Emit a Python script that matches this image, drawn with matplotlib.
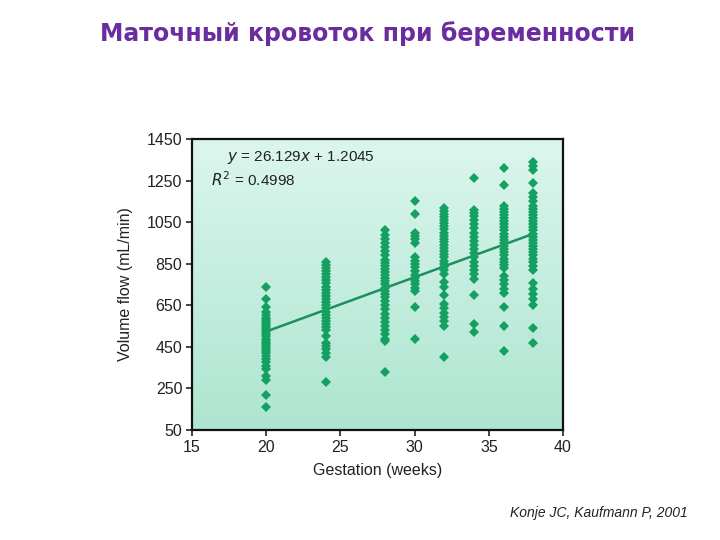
import numpy as np
import matplotlib.pyplot as plt

# Gestation groups (weeks) and volume flow readings (mL/min)
weeks = [20, 24, 28, 30, 32, 34, 36, 38]
flow_20 = [740, 680, 640, 620, 605, 590, 580, 570, 560, 550, 540, 530, 520,
           510, 500, 490, 480, 470, 460, 450, 440, 430, 420, 405, 390, 375,
           360, 345, 310, 290, 220, 160]
flow_24 = [860, 845, 830, 815, 800, 785, 770, 755, 740, 725, 710, 695, 680,
           665, 650, 635, 620, 605, 590, 575, 560, 545, 530, 500, 470, 455,
           440, 420, 400, 280]
flow_28 = [1010, 990, 970, 950, 930, 910, 890, 870, 855, 840, 825, 810, 795,
           780, 765, 750, 735, 720, 705, 690, 670, 650, 630, 610, 590, 570,
           550, 530, 510, 490, 480, 330]
flow_30 = [1150, 1090, 1000, 985, 970, 950, 880, 865, 850, 835, 815, 795,
           780, 765, 750, 735, 720, 640, 490]
flow_32 = [1120, 1105, 1090, 1075, 1060, 1045, 1030, 1015, 1000, 985, 970,
           955, 940, 925, 910, 895, 880, 865, 850, 835, 820, 800, 760, 740,
           700, 655, 635, 615, 595, 575, 550, 400]
flow_34 = [1260, 1110, 1095, 1080, 1060, 1040, 1020, 1000, 980, 960, 940,
           920, 900, 880, 860, 840, 820, 800, 775, 700, 560, 520]
flow_36 = [1310, 1230, 1130, 1115, 1100, 1085, 1070, 1055, 1040, 1025, 1010,
           995, 980, 965, 950, 935, 920, 905, 890, 875, 860, 845, 830, 790,
           770, 750, 730, 710, 640, 550, 430]
flow_38 = [1340, 1320, 1300, 1240, 1190, 1170, 1150, 1130, 1115, 1100, 1085,
           1070, 1055, 1040, 1025, 1010, 995, 980, 965, 950, 935, 920, 905,
           890, 875, 860, 840, 820, 755, 730, 705, 680, 650, 540, 470]
groups = [flow_20, flow_24, flow_28, flow_30, flow_32, flow_34, flow_36, flow_38]

# Regression reported in the source
slope = 26.129
intercept = 1.2045

green = '#14a060'
txt = '#222222'

fig = plt.figure(figsize=(7.2, 5.4), dpi=100)
fig.text(0.51, 0.937, 'Маточный кровоток при беременности', ha='center',
         va='center', fontsize=17, fontweight='bold', color='#6a2c9e',
         family='DejaVu Sans')

ax = fig.add_axes([0.2667, 0.2037, 0.5153, 0.5389])

# soft vertical gradient background
grad = np.linspace(0, 1, 256).reshape(-1, 1)
cmap = plt.matplotlib.colors.LinearSegmentedColormap.from_list(
    'bg', ['#ade5d0', '#dcf6ee'])
ax.imshow(grad, aspect='auto', cmap=cmap, origin='lower',
          extent=[15, 40, 50, 1450], zorder=0)

for w, vals in zip(weeks, groups):
    ax.plot([w] * len(vals), vals, linestyle='none', marker='D',
            markersize=5.4, color=green, markeredgewidth=0, zorder=3)

xfit = np.array([weeks[0], weeks[-1]])
ax.plot(xfit, slope * xfit + intercept, color='#1a915c', linewidth=1.8,
        zorder=2)

ax.set_xlim(15, 40)
ax.set_ylim(50, 1450)
ax.set_xticks([15, 20, 25, 30, 35, 40])
ax.set_yticks(np.arange(50, 1451, 200))
ax.tick_params(direction='out', length=4, width=1.2, labelsize=11.5,
               colors=txt, pad=3)
for lab in ax.get_xticklabels() + ax.get_yticklabels():
    lab.set_family('Liberation Sans')
for s in ax.spines.values():
    s.set_linewidth(1.6)
    s.set_color('#111111')

ax.text(0.095, 0.935, r'$y$ = 26.129$x$ + 1.2045', transform=ax.transAxes,
        fontsize=11, color=txt, va='center', family='Liberation Sans')
ax.text(0.05, 0.86, r'$R^2$ = 0.4998', transform=ax.transAxes,
        fontsize=11, color=txt, va='center', family='Liberation Sans')

ax.set_xlabel('Gestation (weeks)', fontsize=11.5, color=txt, labelpad=6,
              family='Liberation Sans')
ax.set_ylabel('Volume flow (mL/min)', fontsize=11.5, color=txt, labelpad=10,
              family='Liberation Sans')

fig.text(0.955, 0.05, 'Konje JC, Kaufmann P, 2001', ha='right', va='center',
         fontsize=10, style='italic', color=txt, family='Liberation Sans')

fig.savefig('out.png', dpi=100)
